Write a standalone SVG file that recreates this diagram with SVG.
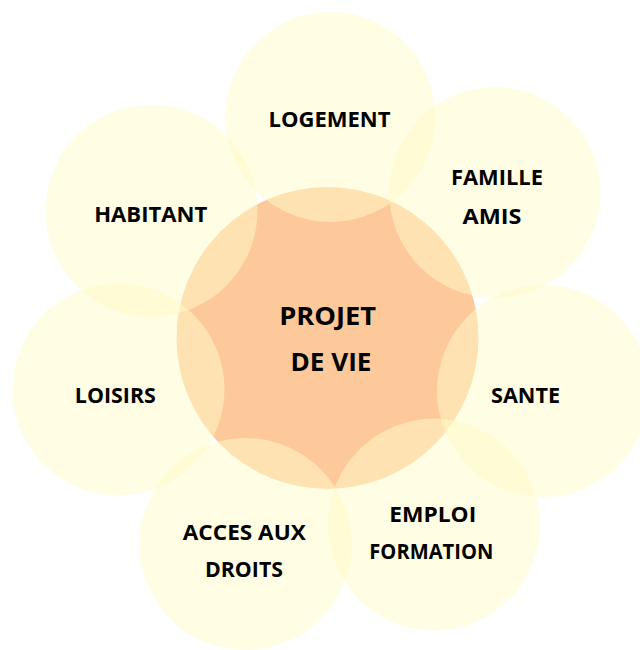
<svg xmlns="http://www.w3.org/2000/svg" width="640" height="650" viewBox="0 0 640 650">
<style>
  .core { fill: #FDC99A; }
  .petal { fill: #FFFBC8; fill-opacity: 0.5; }
  .lbl { font-family: "Open Sans", "Noto Sans", "Liberation Sans", sans-serif; font-weight: 700; font-size: 21.5px; fill: #000; text-anchor: middle; }
  .big { font-size: 25.5px; }
</style>
<rect x="0" y="0" width="640" height="650" fill="#FFFFFF"/>
<g id="node-projet">
  <circle class="core" cx="327.5" cy="338" r="151"/>
</g>
<g id="node-logement">
  <circle class="petal" cx="330.5" cy="117" r="105"/>
  <text class="lbl" x="329.5" y="127" textLength="122" lengthAdjust="spacingAndGlyphs">LOGEMENT</text>
</g>
<g id="node-famille">
  <circle class="petal" cx="494.8" cy="192.6" r="105.5"/>
  <text class="lbl" x="497" y="185" textLength="92" lengthAdjust="spacingAndGlyphs">FAMILLE</text>
  <text class="lbl" x="492" y="224" textLength="59" lengthAdjust="spacingAndGlyphs">AMIS</text>
</g>
<g id="node-sante">
  <circle class="petal" cx="543" cy="391" r="106"/>
  <text class="lbl" x="525.5" y="403" textLength="69" lengthAdjust="spacingAndGlyphs">SANTE</text>
</g>
<g id="node-emploi">
  <circle class="petal" cx="434" cy="524.6" r="106"/>
  <text class="lbl" x="432.7" y="522" textLength="87" lengthAdjust="spacingAndGlyphs">EMPLOI</text>
  <text class="lbl" x="431.3" y="558.5" textLength="124" lengthAdjust="spacingAndGlyphs">FORMATION</text>
</g>
<g id="node-acces">
  <circle class="petal" cx="245.5" cy="544" r="106"/>
  <text class="lbl" x="244.3" y="540" textLength="123" lengthAdjust="spacingAndGlyphs">ACCES AUX</text>
  <text class="lbl" x="244" y="577" textLength="78" lengthAdjust="spacingAndGlyphs">DROITS</text>
</g>
<g id="node-loisirs">
  <circle class="petal" cx="118.5" cy="389.4" r="106"/>
  <text class="lbl" x="115.3" y="403" textLength="81" lengthAdjust="spacingAndGlyphs">LOISIRS</text>
</g>
<g id="node-habitant">
  <circle class="petal" cx="151.5" cy="210.7" r="106"/>
  <text class="lbl" x="150.7" y="222" textLength="113" lengthAdjust="spacingAndGlyphs">HABITANT</text>
</g>
<g id="node-projet-label">
  <text class="lbl big" x="327.7" y="325" textLength="97" lengthAdjust="spacingAndGlyphs">PROJET</text>
  <text class="lbl big" x="331" y="371" textLength="81" lengthAdjust="spacingAndGlyphs">DE VIE</text>
</g>
</svg>
